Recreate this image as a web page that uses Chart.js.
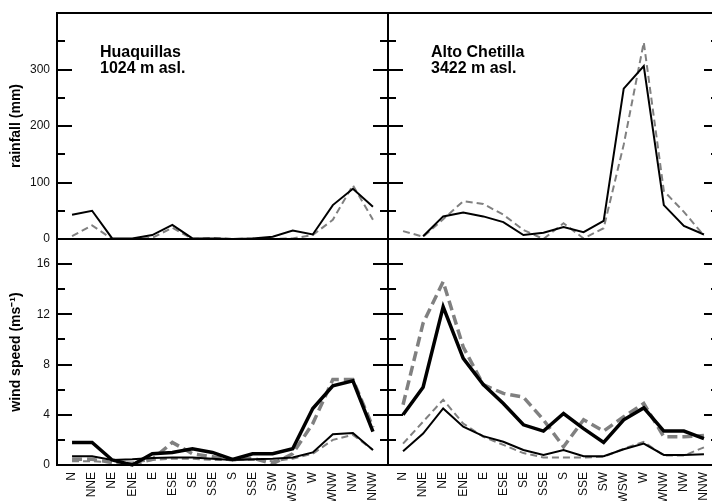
<!DOCTYPE html>
<html>
<head>
<meta charset="utf-8">
<title>Rainfall and wind speed by direction</title>
<script src="https://cdn.jsdelivr.net/npm/chart.js@4"></script>
<style>
    html, body { margin: 0; padding: 0; background: #fff; overflow: hidden; width: 712px; height: 501px; }
    canvas { position: absolute; left: 0; top: 0; }
</style>
</head>
<body>
<canvas id="rain-left" width="740" height="520"></canvas>
<canvas id="rain-right" width="740" height="520"></canvas>
<canvas id="wind-left" width="740" height="520"></canvas>
<canvas id="wind-right" width="740" height="520"></canvas>
<script>
// wind directions (the original axis repeats "SSE" in place of SSW)
const categories = ["N", "NNE", "NE", "ENE", "E", "ESE", "SE", "SSE", "S", "SSE", "SW", "WSW", "W", "WNW", "NW", "NNW"];
const rainTicks = [0, 100, 200, 300];
const windTicks = [0, 4, 8, 12, 16];

// rainfall (mm)
const rainHuaqSolid = [43, 50, 1, 1, 7, 25, 1, 1, 0, 1, 4, 15, 8, 60, 89, 57];
const rainHuaqDashed = [5, 24, 0, 0, 2, 20, 0, 2, 0, 1, 0, 1, 7, 34, 95, 34];
const rainChetSolid = [null, 5, 40, 47, 40, 30, 7, 11, 21, 12, 32, 266, 306, 60, 23, 8];
const rainChetDashed = [14, 4, 35, 67, 62, 43, 16, 0, 28, 1, 19, 167, 348, 85, 48, 6];

// wind speed (m/s)
const windHuaqThick = [1.8, 1.8, 0.4, 0, 0.9, 1.0, 1.3, 1.0, 0.45, 0.9, 0.9, 1.3, 4.5, 6.3, 6.7, 2.65];
const windHuaqThickDashed = [0.45, 0.45, 0.2, 0.05, 0.45, 1.8, 0.9, 0.65, 0.4, 0.55, 0.1, 0.9, 3.3, 6.8, 6.8, 3.0];
const windHuaqThin = [0.7, 0.7, 0.4, 0.45, 0.55, 0.6, 0.6, 0.5, 0.4, 0.45, 0.5, 0.6, 1.0, 2.45, 2.55, 1.2];
const windHuaqThinDashed = [0.3, 0.3, 0.2, 0.2, 0.4, 0.5, 0.5, 0.4, 0.4, 0.4, 0.3, 0.5, 0.9, 2.0, 2.4, 1.2];
const windChetThick = [4.0, 6.2, 12.6, 8.5, 6.4, 4.9, 3.2, 2.7, 4.1, 2.9, 1.8, 3.6, 4.55, 2.7, 2.7, 2.1];
const windChetThickDashed = [4.8, 11.3, 14.6, 9.4, 6.4, 5.7, 5.4, 3.6, 1.45, 3.6, 2.7, 3.85, 4.9, 2.25, 2.25, 2.35];
const windChetThin = [1.1, 2.5, 4.5, 3.05, 2.3, 1.85, 1.2, 0.8, 1.2, 0.7, 0.7, 1.25, 1.7, 0.8, 0.8, 0.85];
const windChetThinDashed = [1.7, 3.45, 5.2, 3.3, 2.25, 1.6, 0.95, 0.6, 0.6, 0.6, 0.65, 1.3, 1.85, 0.75, 0.75, 1.4];

const FONT = "'Liberation Sans', Arial, Helvetica, sans-serif";
const GRAY = "#808080";

Chart.defaults.font.family = FONT;
Chart.defaults.color = "#000";

// turn a value array into {x, y} points on the linear direction axis
function toPoints(values) {
    return values.map((v, i) => ({ x: i, y: v }));
}

function line(values, width, dashed) {
    return {
        data: toPoints(values),
        borderColor: dashed ? GRAY : "#000",
        borderWidth: width,
        borderDash: dashed ? (width > 2.5 ? [10, 5] : [7, 4]) : [],
        pointRadius: 0,
        tension: 0,
        clip: false,
    };
}

// frame, inward tick marks and the station label
const framePlugin = {
    id: "frame",
    afterDatasetsDraw(chart, args, opts) {
        const { ctx, chartArea: a } = chart;
        const y = chart.scales.y;
        ctx.save();
        ctx.strokeStyle = "#000";
        ctx.lineWidth = 2;
        ctx.strokeRect(a.left, a.top, a.right - a.left, a.bottom - a.top);
        for (let v = opts.minor; v < y.max; v += opts.minor) {
            const py = Math.round(y.getPixelForValue(v));
            const len = v % opts.major === 0 ? 15 : 8;
            ctx.beginPath();
            ctx.moveTo(a.left, py);
            ctx.lineTo(a.left + len, py);
            ctx.moveTo(a.right, py);
            ctx.lineTo(a.right - len, py);
            ctx.stroke();
        }
        if (opts.label) {
            ctx.fillStyle = "#000";
            ctx.font = "bold 16px " + FONT;
            ctx.textAlign = "left";
            ctx.textBaseline = "alphabetic";
            opts.label.forEach((t, i) => ctx.fillText(t, a.left + 43, a.top + 44 + i * 16));
        }
        ctx.restore();
    },
};

function xScale(showLabels) {
    return {
        type: "linear",
        min: -0.75,
        max: 15.75,
        display: showLabels,
        grid: { display: false, drawTicks: false },
        border: { display: false },
        afterBuildTicks(s) {
            s.ticks = categories.map((c, i) => ({ value: i }));
        },
        afterFit(s) {
            s.height = showLabels ? 55 : 0;
            s.paddingLeft = 0;
            s.paddingRight = 0;
        },
        ticks: {
            autoSkip: false,
            minRotation: 90,
            maxRotation: 90,
            padding: 7,
            font: { size: 12 },
            color: "#111",
            callback: (v) => categories[v],
        },
    };
}

function yScale(max, ticks, title, showLabels) {
    return {
        min: 0,
        max: max,
        display: showLabels,
        grid: { display: false, drawTicks: false },
        border: { display: false },
        afterBuildTicks(s) {
            s.ticks = ticks.map((v) => ({ value: v }));
        },
        afterFit(s) {
            s.width = showLabels ? 57 : 0;
            s.paddingTop = 0;
            s.paddingBottom = 0;
        },
        ticks: { padding: 7, font: { size: 12 }, color: "#111" },
        title: {
            display: true,
            text: title,
            font: { size: 14, weight: "bold" },
            padding: { top: 8, bottom: 0 },
        },
    };
}

function makePanel(id, datasets, opts) {
    new Chart(document.getElementById(id), {
        type: "line",
        data: { datasets: datasets },
        options: {
            responsive: false,
            animation: false,
            events: [],
            layout: { padding: opts.padding },
            plugins: {
                legend: { display: false },
                tooltip: { enabled: false },
                frame: opts.frame,
            },
            scales: {
                x: xScale(opts.xLabels),
                y: yScale(opts.yMax, opts.yTicks, opts.yTitle, opts.yLabels),
            },
        },
        plugins: [framePlugin],
    });
}

// rainfall, Huaquillas
makePanel("rain-left", [
    line(rainHuaqSolid, 2, false),
    line(rainHuaqDashed, 2, true),
], {
    padding: { left: 0, top: 13, right: 352, bottom: 281 },
    xLabels: false, yLabels: true, yMax: 400, yTicks: rainTicks, yTitle: "rainfall (mm)",
    frame: { minor: 50, major: 100, label: ["Huaquillas", "1024 m asl."] },
});

// rainfall, Alto Chetilla
makePanel("rain-right", [
    line(rainChetSolid, 2, false),
    line(rainChetDashed, 2, true),
], {
    padding: { left: 388, top: 13, right: 21, bottom: 281 },
    xLabels: false, yLabels: false, yMax: 400, yTicks: rainTicks, yTitle: "",
    frame: { minor: 50, major: 100, label: ["Alto Chetilla", "3422 m asl."] },
});

// wind speed, Huaquillas
makePanel("wind-left", [
    line(windHuaqThick, 3.5, false),
    line(windHuaqThin, 2, false),
    line(windHuaqThickDashed, 3.5, true),
    line(windHuaqThinDashed, 2, true),
], {
    padding: { left: 0, top: 239, right: 352, bottom: 0 },
    xLabels: true, yLabels: true, yMax: 18, yTicks: windTicks, yTitle: "wind speed (ms\u207B\u00B9)",
    frame: { minor: 2, major: 4 },
});

// wind speed, Alto Chetilla
makePanel("wind-right", [
    line(windChetThick, 3.5, false),
    line(windChetThin, 2, false),
    line(windChetThickDashed, 3.5, true),
    line(windChetThinDashed, 2, true),
], {
    padding: { left: 388, top: 239, right: 21, bottom: 0 },
    xLabels: true, yLabels: false, yMax: 18, yTicks: windTicks, yTitle: "",
    frame: { minor: 2, major: 4 },
});
</script>
</body>
</html>
